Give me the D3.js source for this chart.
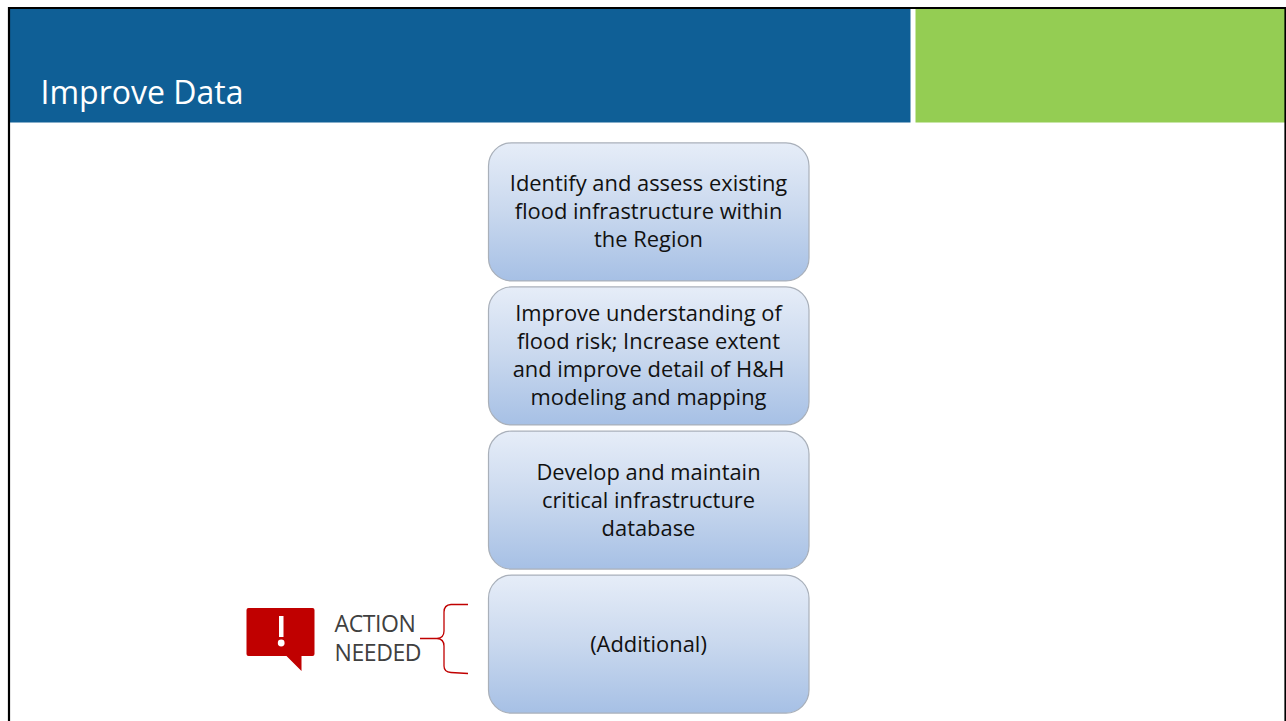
<!DOCTYPE html>
<html>
<head>
<meta charset="utf-8">
<script src="https://cdn.jsdelivr.net/npm/d3@7"></script>
<style>
  html, body { margin: 0; padding: 0; background: #fff; overflow: hidden; }
  svg { display: block; }
  text { font-family: "Open Sans", sans-serif; }
</style>
</head>
<body>
<svg id="slide" width="1286" height="721"></svg>
<script>
const title = 'Improve Data';
const steps = ['identify', 'understand', 'database', 'additional'];
const stepLines = [
  ['Identify and assess existing', 'flood infrastructure within', 'the Region'],
  ['Improve understanding of', 'flood risk; Increase extent', 'and improve detail of H&H', 'modeling and mapping'],
  ['Develop and maintain', 'critical infrastructure', 'database'],
  ['(Additional)']
];
const actionLines = ['ACTION', 'NEEDED'];

const width = 1286;
const height = 721;
const svg = d3.select('#slide');

const grad = svg.append('defs').append('linearGradient')
  .attr('id', 'boxFill')
  .attr('x1', 0).attr('y1', 0).attr('x2', 0).attr('y2', 1);
grad.append('stop').attr('offset', '0%').attr('stop-color', '#e6edf8');
grad.append('stop').attr('offset', '50%').attr('stop-color', '#c9d8ee');
grad.append('stop').attr('offset', '100%').attr('stop-color', '#a6c0e5');

// header bands
svg.append('rect').attr('x', 9).attr('y', 9).attr('width', 901.5).attr('height', 113.5).attr('fill', '#0f5f96');
svg.append('rect').attr('x', 915.5).attr('y', 9).attr('width', 370).attr('height', 113.5).attr('fill', '#94cd53');

// slide border, open at the bottom
svg.append('path')
  .attr('d', 'M9,721V8H1285.5V721')
  .attr('fill', 'none')
  .attr('stroke', '#000')
  .attr('stroke-width', 2.2);

svg.append('text')
  .attr('x', 40.5)
  .attr('y', 104)
  .attr('fill', '#fff')
  .attr('font-size', 32)
  .text(title);

const y = d3.scaleBand()
  .domain(steps)
  .range([140, 716])
  .paddingInner(0.042)
  .paddingOuter(0.02);

const box = svg.selectAll('.step')
  .data(steps)
  .enter().append('g')
  .attr('class', 'step')
  .attr('transform', function(d) { return 'translate(488.5,' + y(d) + ')'; });

box.append('rect')
  .attr('width', 320.5)
  .attr('height', y.bandwidth())
  .attr('rx', 23)
  .attr('fill', 'url(#boxFill)')
  .attr('stroke', '#a9b0ba')
  .attr('stroke-width', 1.2);

box.each(function(d, i) {
  const lines = stepLines[i];
  const lineGap = 28;
  const top = y.bandwidth() / 2 - (lines.length - 1) * lineGap / 2 + 7.5;
  d3.select(this).selectAll('text')
    .data(lines)
    .enter().append('text')
    .attr('x', 160)
    .attr('y', function(l, j) { return top + j * lineGap; })
    .attr('text-anchor', 'middle')
    .attr('font-size', 21.9)
    .attr('fill', '#111')
    .text(function(l) { return l; });
});

// alert icon
const icon = svg.append('g').attr('transform', 'translate(246.5,608)');
icon.append('path')
  .attr('d', 'M2,0H66a2,2 0 0 1 2,2V46a2,2 0 0 1 -2,2H55V63L40,48H2a2,2 0 0 1 -2,-2V2a2,2 0 0 1 2,-2Z')
  .attr('fill', '#c00000');
icon.append('rect')
  .attr('x', 32.5).attr('y', 8).attr('width', 4.5).attr('height', 21).attr('fill', '#fff');
icon.append('circle')
  .attr('cx', 34.7).attr('cy', 35).attr('r', 3.4).attr('fill', '#fff');

svg.selectAll('.action')
  .data(actionLines)
  .enter().append('text')
  .attr('class', 'action')
  .attr('x', 334.5)
  .attr('y', function(d, i) { return 632 + i * 29; })
  .attr('font-size', 23)
  .attr('letter-spacing', -0.4)
  .attr('fill', '#404040')
  .text(function(d) { return d; });

// red brace
svg.append('path')
  .attr('d', 'M468,604.5H451Q444,605 444,612V631Q444,638 437,638.5H420M437,638.5Q444,639 444,646V666Q444,672 451,672.5L468,673.5')
  .attr('fill', 'none')
  .attr('stroke', '#c00000')
  .attr('stroke-width', 1.3);
</script>
</body>
</html>
